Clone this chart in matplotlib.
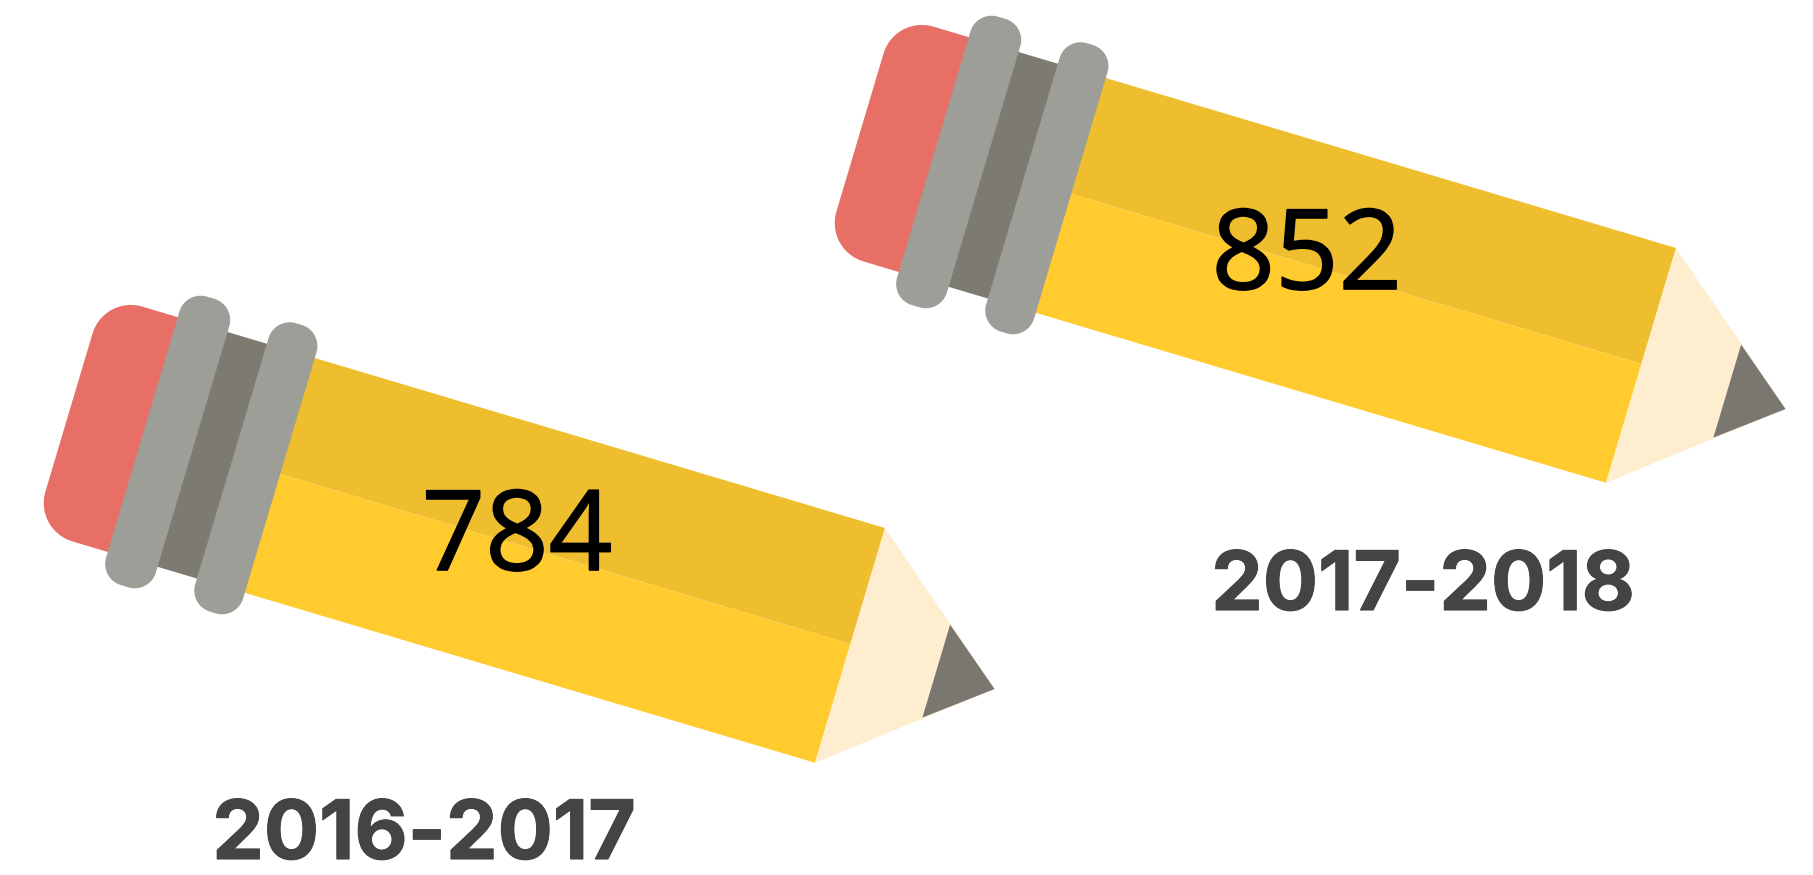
import matplotlib
matplotlib.use("Agg")
import matplotlib.pyplot as plt
import matplotlib.patheffects as pe
import numpy as np
from matplotlib.patches import Polygon
from matplotlib.transforms import Affine2D

# Values shown on the pencils
periods = ["2016-2017", "2017-2018"]
counts = [784, 852]

WIDTH, HEIGHT = 1813, 875
ANGLE = 16.6

# Pencil anchors: top corner of the body next to the wood tip (image pixels)
anchors = [(885, 528), (1676, 248)]
value_pos = [(517, 541), (1307, 260)]
label_pos = [(424, 838), (1423, 589)]


def round_rect_points(u0, v0, u1, v1, radius):
    """Outline of a rectangle with circular corners."""
    corners = [(u1 - radius, v0 + radius, -90), (u1 - radius, v1 - radius, 0),
               (u0 + radius, v1 - radius, 90), (u0 + radius, v0 + radius, 180)]
    points = []
    for cu, cv, start in corners:
        t = np.radians(np.linspace(start, start + 90, 16))
        points.extend(zip(cu + radius * np.cos(t), cv + radius * np.sin(t)))
    return points


def draw_pencil(ax, x, y):
    """Draw one pencil, in local coords u (along the pencil) and v (across it)."""
    tr = Affine2D().rotate_deg(ANGLE).translate(x, y) + ax.transData

    def poly(points, color):
        ax.add_patch(Polygon(points, closed=True, facecolor=color, edgecolor="none", transform=tr))

    # eraser
    poly(round_rect_points(-815, 0, -700, 245, 40), "#E86F66")
    # body
    poly([(-600, 0), (0, 0), (0, 121), (-600, 121)], "#EFBE2E")
    poly([(-600, 121), (0, 121), (0, 245), (-600, 245)], "#FFCB2E")
    # wood and lead
    poly([(0, 0), (151, 123), (0, 245)], "#FFEDD0")
    poly([(90, 74), (151, 123), (90, 171)], "#7A7670")
    # metal band
    poly([(-690, 0), (-620, 0), (-620, 245), (-690, 245)], "#7D7A72")
    poly(round_rect_points(-738, -28, -686, 273, 22), "#9E9E98")
    poly(round_rect_points(-645, -28, -595, 273, 22), "#9E9E98")


fig = plt.figure(figsize=(WIDTH / 100, HEIGHT / 100), dpi=100, facecolor="white")
ax = fig.add_axes([0, 0, 1, 1])
ax.set_xlim(0, WIDTH)
ax.set_ylim(HEIGHT, 0)
ax.axis("off")

for i in range(len(counts)):
    draw_pencil(ax, *anchors[i])
    ax.text(*value_pos[i], str(counts[i]), fontsize=80, family="Open Sans", color="black",
            ha="center", va="center",
            path_effects=[pe.withStroke(linewidth=1.2, foreground="black")])
    ax.text(*label_pos[i], periods[i], fontsize=59, family="Inter", weight="bold", color="#444444",
            ha="center", va="center",
            path_effects=[pe.withStroke(linewidth=0.8, foreground="#444444")])

fig.savefig("out.png", dpi=100)
